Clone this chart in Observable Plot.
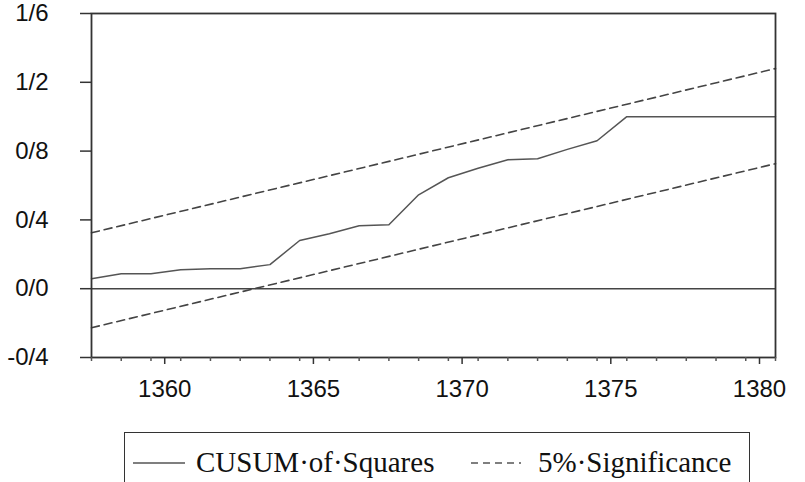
<!DOCTYPE html>
<html>
<head>
<meta charset="utf-8">
<script src="https://cdn.jsdelivr.net/npm/d3@7"></script>
<script src="https://cdn.jsdelivr.net/npm/@observablehq/plot@0.6"></script>
<style>
  html, body { margin: 0; padding: 0; background: #fff; }
  #wrap { position: relative; width: 805px; height: 482px; overflow: hidden; }
  #legend { position: absolute; left: 124px; top: 432px; width: 626px; height: 70px;
            border: 1.5px solid #333; box-sizing: border-box; background: #fff;
            font-family: "Liberation Serif", "Times New Roman", serif; font-size: 29px; color: #111; }
  #legend .item { position: absolute; top: 13px; display: flex; align-items: center; white-space: nowrap; }
  #legend svg { margin-right: 11px; }
</style>
</head>
<body>
<div id="wrap">
  <div id="chart"></div>
  <div id="legend">
    <div class="item" style="left:8px"><svg width="52" height="10"><line x1="0" x2="52" y1="5" y2="5" stroke="#555" stroke-width="1.5"/></svg><span>CUSUM·of·Squares</span></div>
    <div class="item" style="left:346px"><svg width="50" height="10" style="margin-right:17px"><line x1="0" x2="50" y1="5" y2="5" stroke="#555" stroke-width="1.5" stroke-dasharray="7,5"/></svg><span>5%·Significance</span></div>
  </div>
</div>
<script>
// Data
const years = [1357,1358,1359,1360,1361,1362,1363,1364,1365,1366,1367,1368,1369,1370,1371,1372,1373,1374,1375,1376,1377,1378,1379,1380];
const cusum = [0.058,0.087,0.087,0.11,0.116,0.116,0.14,0.28,0.32,0.366,0.372,0.546,0.645,0.70,0.75,0.756,0.81,0.86,1.0,1.0,1.0,1.0,1.0,1.0];
const boundYears = [1357, 1380];
const upperBound = [0.325, 1.28];
const lowerBound = [-0.227, 0.727];
const yTickValues = [-0.4, 0, 0.4, 0.8, 1.2, 1.6];
const yTickLabels = ["-0/4", "0/0", "0/4", "0/8", "1/2", "1/6"];
const xMajorTicks = [1360, 1365, 1370, 1375, 1380];

const cusumData = years.map((y, i) => ({year: y, value: cusum[i]}));
const upperData = boundYears.map((y, i) => ({year: y, value: upperBound[i]}));
const lowerData = boundYears.map((y, i) => ({year: y, value: lowerBound[i]}));

const chart = Plot.plot({
  width: 805,
  height: 432,
  marginLeft: 91,
  marginRight: 30,
  marginTop: 13,
  marginBottom: 75,
  style: {fontFamily: "'Liberation Sans', Arial, sans-serif", fontSize: "24px", color: "#111", background: "#fff"},
  x: {domain: [1357, 1380], axis: null},
  y: {domain: [-0.4, 1.6], axis: null},
  marks: [
    Plot.ruleY([0], {stroke: "#444", strokeWidth: 1.5}),
    Plot.line(upperData, {x: "year", y: "value", stroke: "#444", strokeWidth: 1.6, strokeDasharray: "8,5"}),
    Plot.line(lowerData, {x: "year", y: "value", stroke: "#444", strokeWidth: 1.6, strokeDasharray: "8,5"}),
    Plot.line(cusumData, {x: "year", y: "value", stroke: "#555", strokeWidth: 1.5}),
    Plot.frame({stroke: "#333", strokeWidth: 1.8}),
    Plot.axisY({ticks: yTickValues, tickSize: 11, tickPadding: 32, stroke: "#333", strokeWidth: 1.5, label: null,
      tickFormat: d => yTickLabels[yTickValues.findIndex(v => Math.abs(v - d) < 1e-9)]}),
    Plot.axisX({ticks: years, tickSize: 4, tickFormat: () => "", stroke: "#555", strokeWidth: 1.5, label: null}),
    Plot.axisX({ticks: xMajorTicks, tickSize: 7, tickPadding: 15, stroke: "#333", strokeWidth: 1.5, dx: -16, label: null,
      tickFormat: d => String(d)})
  ]
});
document.getElementById("chart").appendChild(chart);
</script>
</body>
</html>
